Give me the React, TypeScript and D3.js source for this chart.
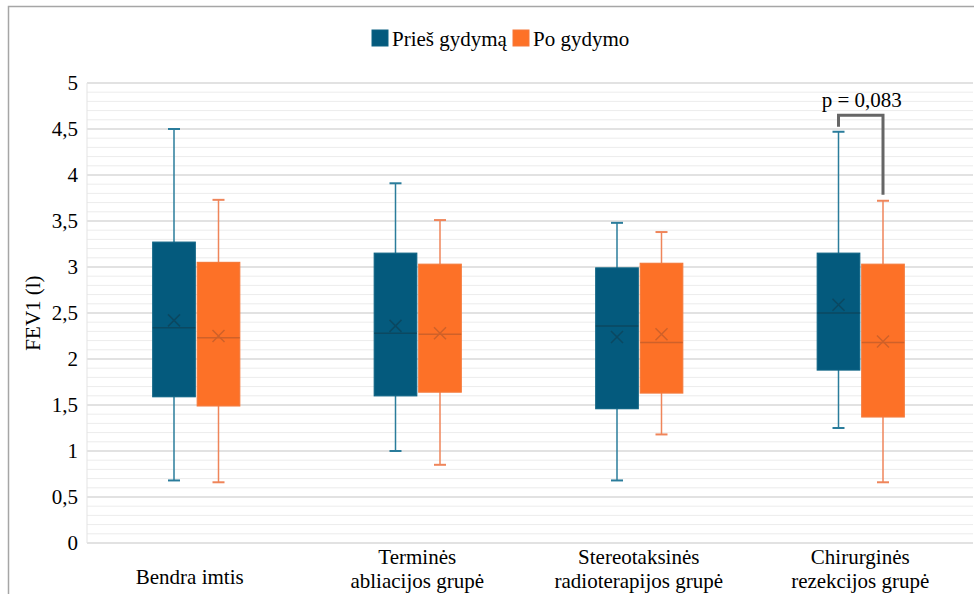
import * as d3 from 'd3';
import React, { useRef, useEffect } from 'react';

const categories = ['Bendra imtis', 'Terminės\nabliacijos grupė', 'Stereotaksinės\nradioterapijos grupė', 'Chirurginės\nrezekcijos grupė'];
const seriesNames = ['Prieš gydymą', 'Po gydymo'];

// [min, q1, median, q3, max, mean] per category
const beforeStats = [
  [0.68, 1.59, 2.34, 3.27, 4.5, 2.42],
  [1.0, 1.6, 2.28, 3.15, 3.91, 2.36],
  [0.68, 1.46, 2.36, 2.99, 3.48, 2.24],
  [1.25, 1.88, 2.5, 3.15, 4.47, 2.59],
];
const afterStats = [
  [0.66, 1.49, 2.23, 3.05, 3.73, 2.25],
  [0.85, 1.64, 2.27, 3.03, 3.51, 2.28],
  [1.18, 1.63, 2.18, 3.04, 3.38, 2.27],
  [0.66, 1.37, 2.18, 3.03, 3.72, 2.19],
];
const yTicks = [0, 0.5, 1, 1.5, 2, 2.5, 3, 3.5, 4, 4.5, 5];
const pLabel = 'p = 0,083';

const colors = {
  fill: ['#045a7d', '#fd7127'],
  stroke: ['#0d6384', '#f5793a'],
  whisker: ['#2a7c9b', '#ef855a'],
  median: ['#0b4861', '#cf6129'],
};

const FONT = 'Liberation Serif, Times New Roman, serif';
const FS = 21;

const App = () => {
  const ref = useRef(null);

  useEffect(() => {
    const svg = d3.select(ref.current);
    svg.selectAll('*').remove();
    svg.attr('font-family', FONT).attr('font-size', FS);

    const left = 87, right = 973, top = 83, bottom = 543;

    const x = d3.scaleBand().domain(categories).range([left, right]);
    const xs = d3.scaleBand().domain(seriesNames).range([-45, 44]);
    const y = d3.scaleLinear().domain([0, 5]).range([bottom, top]);

    // frame
    svg.append('path')
      .attr('d', `M8.5,594 V6.5 H974`)
      .attr('fill', 'none')
      .attr('stroke', '#a6a6a6')
      .attr('stroke-width', 1.5);

    // grid
    const minor = d3.range(0, 50.5, 1).map(d => d / 10);
    svg.append('g').selectAll('line')
      .data(minor)
      .enter().append('line')
      .attr('x1', left).attr('x2', right)
      .attr('y1', d => y(d)).attr('y2', d => y(d))
      .attr('stroke', d => (Math.round(d * 10) % 5 === 0 ? '#d9d9d9' : '#ececec'))
      .attr('stroke-width', d => (Math.round(d * 10) % 5 === 0 ? 1.6 : 1));
    svg.append('line')
      .attr('x1', left).attr('x2', left)
      .attr('y1', top).attr('y2', bottom)
      .attr('stroke', '#e3e3e3');

    // y ticks
    svg.append('g').selectAll('text')
      .data(yTicks)
      .enter().append('text')
      .attr('x', 78)
      .attr('y', d => y(d) + 7)
      .attr('text-anchor', 'end')
      .attr('fill', '#000')
      .text(d => String(d).replace('.', ','));

    svg.append('text')
      .attr('transform', `translate(40,${(top + bottom) / 2}) rotate(-90)`)
      .attr('text-anchor', 'middle')
      .text('FEV1 (l)');

    // x labels
    categories.forEach(c => {
      const lines = c.split('\n');
      const t = svg.append('text')
        .attr('text-anchor', 'middle');
      const cx = x(c) + x.bandwidth() / 2 - (lines.length === 1 ? 8 : 2);
      const y0 = lines.length === 1 ? 584 : 564;
      lines.forEach((l, i) => {
        t.append('tspan').attr('x', cx).attr('y', y0 + i * 24).text(l);
      });
    });

    // boxes
    const all = [beforeStats, afterStats];
    all.forEach((stats, si) => {
      const g = svg.append('g');
      stats.forEach((s, ci) => {
        const [mn, q1, med, q3, mx, mean] = s;
        const x0 = x(categories[ci]) + x.bandwidth() / 2 + xs(seriesNames[si]);
        const w = xs.bandwidth() - 2;
        const cx = x0 + w / 2;
        // whiskers
        g.append('line').attr('x1', cx).attr('x2', cx).attr('y1', y(mx)).attr('y2', y(q3))
          .attr('stroke', colors.whisker[si]).attr('stroke-width', 1.5);
        g.append('line').attr('x1', cx).attr('x2', cx).attr('y1', y(q1)).attr('y2', y(mn))
          .attr('stroke', colors.whisker[si]).attr('stroke-width', 1.5);
        [mx, mn].forEach(v => {
          g.append('line').attr('x1', cx - 6).attr('x2', cx + 6).attr('y1', y(v)).attr('y2', y(v))
            .attr('stroke', colors.whisker[si]).attr('stroke-width', 2);
        });
        g.append('rect')
          .attr('x', x0).attr('y', y(q3))
          .attr('width', w).attr('height', y(q1) - y(q3))
          .attr('fill', colors.fill[si])
          .attr('stroke', colors.stroke[si]).attr('stroke-width', 1.2);
        g.append('line').attr('x1', x0).attr('x2', x0 + w).attr('y1', y(med)).attr('y2', y(med))
          .attr('stroke', colors.median[si]).attr('stroke-width', 1.5);
        const my = y(mean), r = 6;
        g.append('path')
          .attr('d', `M${cx - r},${my - r}L${cx + r},${my + r}M${cx - r},${my + r}L${cx + r},${my - r}`)
          .attr('stroke', colors.median[si]).attr('stroke-width', 1.5).attr('fill', 'none');
      });
    });

    // significance bracket on last group
    const lastC = categories[3];
    const bx1 = x(lastC) + x.bandwidth() / 2 + xs(seriesNames[0]) + (xs.bandwidth() - 2) / 2;
    const bx2 = x(lastC) + x.bandwidth() / 2 + xs(seriesNames[1]) + (xs.bandwidth() - 2) / 2;
    const byTop = y(4.65);
    svg.append('path')
      .attr('d', `M${bx1},${y(beforeStats[3][4]) - 5} V${byTop} H${bx2} V${y(afterStats[3][4]) - 6}`)
      .attr('fill', 'none')
      .attr('stroke', '#666')
      .attr('stroke-width', 3);
    svg.append('text')
      .attr('x', (bx1 + bx2) / 2 + 1)
      .attr('y', byTop - 8)
      .attr('text-anchor', 'middle')
      .text(pLabel);

    // legend
    const legendX = [372, 513];
    seriesNames.forEach((n, i) => {
      svg.append('rect')
        .attr('x', legendX[i]).attr('y', 30).attr('width', 16).attr('height', 16)
        .attr('fill', colors.fill[i]).attr('stroke', colors.stroke[i]);
      svg.append('text')
        .attr('x', legendX[i] + 20).attr('y', 46)
        .text(n);
    });
  }, []);

  return (
    <svg ref={ref} width={974} height={594}
      style={{ position: 'absolute', left: 0, top: 0, background: '#fff' }} />
  );
};

export default App;
